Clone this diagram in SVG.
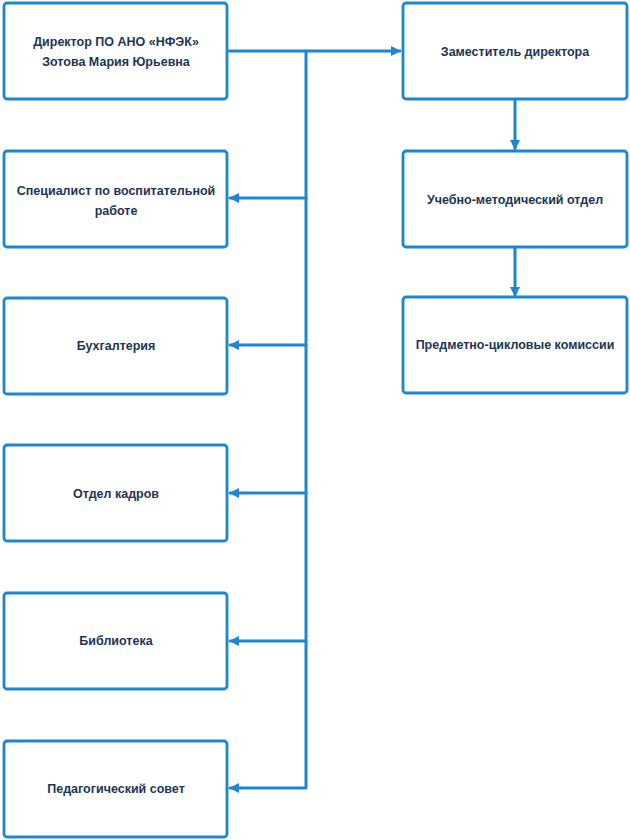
<svg xmlns="http://www.w3.org/2000/svg" width="630" height="840" viewBox="0 0 630 840">
<style>
.box{fill:#ffffff;stroke:#1b86d4;stroke-width:2.8;stroke-linejoin:round}
.lbl{font-family:"Liberation Sans",Arial,sans-serif;font-weight:bold;font-size:12.5px;fill:#1d3554;text-anchor:middle}
.con{fill:none;stroke:#1b86d4;stroke-width:3;stroke-linejoin:round;stroke-linecap:round}
</style>
<defs>
<marker id="ah" markerWidth="10" markerHeight="10" refX="9" refY="5" orient="auto" markerUnits="userSpaceOnUse">
<path d="M0,0 L10,5 L0,10 Z" fill="#1b86d4"/>
</marker>
</defs>
<rect width="630" height="840" fill="#ffffff"/>
<g id="connectors">
<path class="con" d="M228,51 L400,51" marker-end="url(#ah)"/>
<path class="con" d="M306,51 L306,788 L230,788" marker-end="url(#ah)"/>
<path class="con" d="M306,198 L230,198" marker-end="url(#ah)"/>
<path class="con" d="M306,345 L230,345" marker-end="url(#ah)"/>
<path class="con" d="M306,493 L230,493" marker-end="url(#ah)"/>
<path class="con" d="M306,641 L230,641" marker-end="url(#ah)"/>
<path class="con" d="M515,99 L515,149" marker-end="url(#ah)"/>
<path class="con" d="M515,247 L515,296" marker-end="url(#ah)"/>
</g>
<g id="n-director">
<rect class="box" x="4" y="3" width="223" height="96" rx="3"/>
<text class="lbl" x="116" y="46">Директор ПО АНО «НФЭК»</text>
<text class="lbl" x="116" y="66">Зотова Мария Юрьевна</text>
</g>
<g id="n-specialist">
<rect class="box" x="4" y="151" width="223" height="96" rx="3"/>
<text class="lbl" x="116" y="195">Специалист по воспитательной</text>
<text class="lbl" x="116" y="215">работе</text>
</g>
<g id="n-accounting">
<rect class="box" x="4" y="298" width="223" height="96" rx="3"/>
<text class="lbl" x="116" y="350">Бухгалтерия</text>
</g>
<g id="n-hr">
<rect class="box" x="4" y="445" width="223" height="96" rx="3"/>
<text class="lbl" x="116" y="498">Отдел кадров</text>
</g>
<g id="n-library">
<rect class="box" x="4" y="593" width="223" height="96" rx="3"/>
<text class="lbl" x="116" y="645">Библиотека</text>
</g>
<g id="n-council">
<rect class="box" x="4" y="741" width="223" height="96" rx="3"/>
<text class="lbl" x="116" y="793">Педагогический совет</text>
</g>
<g id="n-deputy">
<rect class="box" x="403" y="3" width="224" height="96" rx="3"/>
<text class="lbl" x="515" y="56">Заместитель директора</text>
</g>
<g id="n-methodical">
<rect class="box" x="403" y="151" width="224" height="96" rx="3"/>
<text class="lbl" x="515" y="204">Учебно-методический отдел</text>
</g>
<g id="n-commissions">
<rect class="box" x="403" y="297" width="224" height="96" rx="3"/>
<text class="lbl" x="515" y="349">Предметно-цикловые комиссии</text>
</g>
</svg>
